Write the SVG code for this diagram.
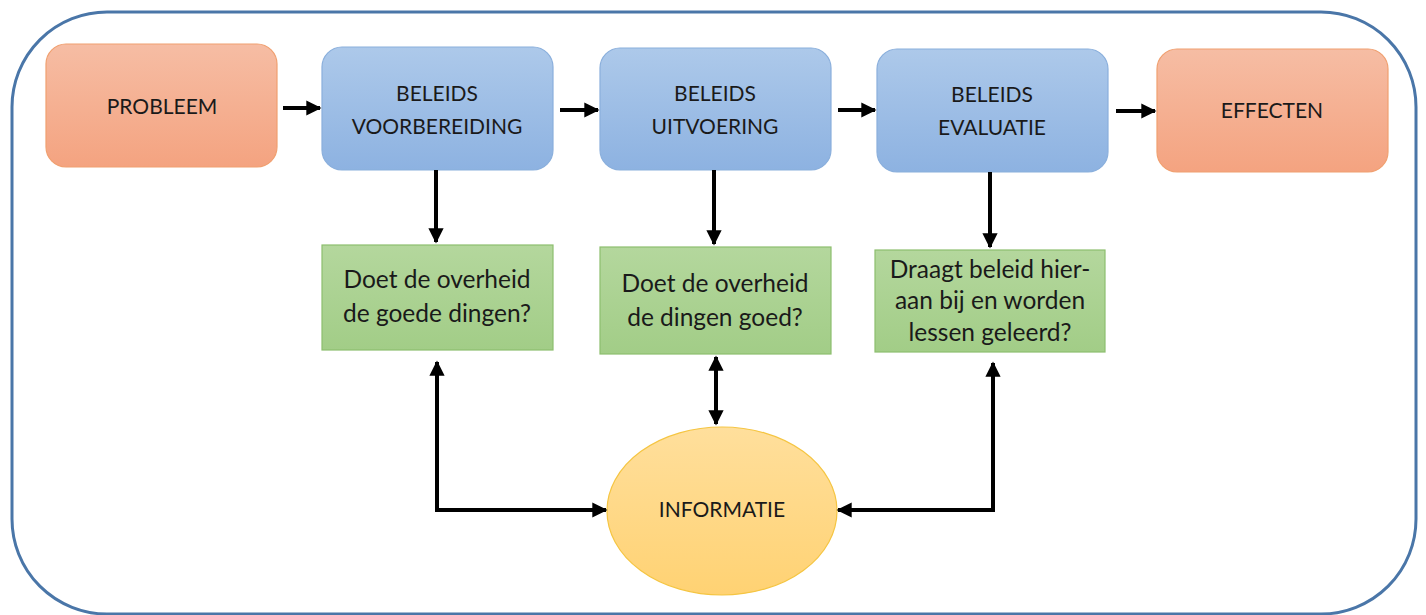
<svg xmlns="http://www.w3.org/2000/svg" width="1426" height="615" viewBox="0 0 1426 615">
  <defs>
    <linearGradient id="gOrange" x1="0" y1="0" x2="0" y2="1">
      <stop offset="0" stop-color="#F6BDA4"/>
      <stop offset="1" stop-color="#F4A380"/>
    </linearGradient>
    <linearGradient id="gBlue" x1="0" y1="0" x2="0" y2="1">
      <stop offset="0" stop-color="#ADC9EA"/>
      <stop offset="1" stop-color="#8DB2E1"/>
    </linearGradient>
    <linearGradient id="gGreen" x1="0" y1="0" x2="0" y2="1">
      <stop offset="0" stop-color="#B4D79D"/>
      <stop offset="1" stop-color="#A2CD87"/>
    </linearGradient>
    <linearGradient id="gYellow" x1="0" y1="0" x2="0" y2="1">
      <stop offset="0" stop-color="#FFDF9C"/>
      <stop offset="1" stop-color="#FFD273"/>
    </linearGradient>
    <marker id="head" viewBox="0 0 10 10" refX="9" refY="5" markerWidth="3.8" markerHeight="4" orient="auto-start-reverse" markerUnits="strokeWidth">
      <path d="M0,0 L10,5 L0,10 Z" fill="#000"/>
    </marker>
  </defs>
  <style>
    .frame { fill: #fff; stroke: #4A76A8; stroke-width: 3; }
    .orange { fill: url(#gOrange); stroke: #F0A070; stroke-width: 1.2; }
    .blue { fill: url(#gBlue); stroke: #8AAFDC; stroke-width: 1.2; }
    .green { fill: url(#gGreen); stroke: #8DBE6E; stroke-width: 1.2; }
    .yellow { fill: url(#gYellow); stroke: #F5C542; stroke-width: 1.2; }
    .caps { font-family: Lato, "Open Sans", "Liberation Sans", sans-serif; font-size: 21px; fill: #1a1a1a; text-anchor: middle; }
    .q { font-family: Lato, "Open Sans", "Liberation Sans", sans-serif; font-size: 24.5px; fill: #1a1a1a; text-anchor: middle; }
    .conn path { fill: none; stroke: #000; stroke-width: 4; }
  </style>

  <rect class="frame" x="12" y="12" width="1404" height="602" rx="95" ry="95"/>

  <g id="probleem">
    <rect class="orange" x="46" y="44" width="231" height="123" rx="20"/>
    <text class="caps" x="162" y="114">PROBLEEM</text>
  </g>
  <g id="voorbereiding">
    <rect class="blue" x="322" y="47" width="231" height="123" rx="20"/>
    <text class="caps" x="437" y="101">BELEIDS</text>
    <text class="caps" x="437" y="134">VOORBEREIDING</text>
  </g>
  <g id="uitvoering">
    <rect class="blue" x="600" y="48" width="231" height="122" rx="20"/>
    <text class="caps" x="715" y="101">BELEIDS</text>
    <text class="caps" x="715" y="134">UITVOERING</text>
  </g>
  <g id="evaluatie">
    <rect class="blue" x="877" y="49" width="231" height="123" rx="20"/>
    <text class="caps" x="992" y="102">BELEIDS</text>
    <text class="caps" x="992" y="135">EVALUATIE</text>
  </g>
  <g id="effecten">
    <rect class="orange" x="1157" y="49" width="231" height="123" rx="20"/>
    <text class="caps" x="1272" y="118">EFFECTEN</text>
  </g>

  <g id="vraag-goede-dingen">
    <rect class="green" x="322" y="245" width="231" height="105"/>
    <text class="q" x="437" y="288">Doet de overheid</text>
    <text class="q" x="437" y="322">de goede dingen?</text>
  </g>
  <g id="vraag-dingen-goed">
    <rect class="green" x="600" y="247" width="231" height="107"/>
    <text class="q" x="715" y="292">Doet de overheid</text>
    <text class="q" x="715" y="326">de dingen goed?</text>
  </g>
  <g id="vraag-lessen">
    <rect class="green" x="875" y="250" width="230" height="102"/>
    <text class="q" x="990" y="278">Draagt beleid hier-</text>
    <text class="q" x="990" y="309">aan bij en worden</text>
    <text class="q" x="990" y="341">lessen geleerd?</text>
  </g>

  <g id="informatie">
    <ellipse class="yellow" cx="722" cy="511" rx="115" ry="84"/>
    <text class="caps" x="722" y="517">INFORMATIE</text>
  </g>

  <g class="conn" id="connectors">
    <!-- main chain -->
    <path d="M283,108 H320" marker-end="url(#head)"/>
    <path d="M560,110 H598" marker-end="url(#head)"/>
    <path d="M838,110 H875" marker-end="url(#head)"/>
    <path d="M1116,111 H1155" marker-end="url(#head)"/>
    <!-- down to the questions -->
    <path d="M436,170 V242" marker-end="url(#head)"/>
    <path d="M714,170 V244" marker-end="url(#head)"/>
    <path d="M990,172 V247" marker-end="url(#head)"/>
    <!-- information loops -->
    <path d="M437,362 V510 H606" marker-start="url(#head)" marker-end="url(#head)"/>
    <path d="M716,357 V424" marker-start="url(#head)" marker-end="url(#head)"/>
    <path d="M993,363 V510 H838" marker-start="url(#head)" marker-end="url(#head)"/>
  </g>
</svg>
